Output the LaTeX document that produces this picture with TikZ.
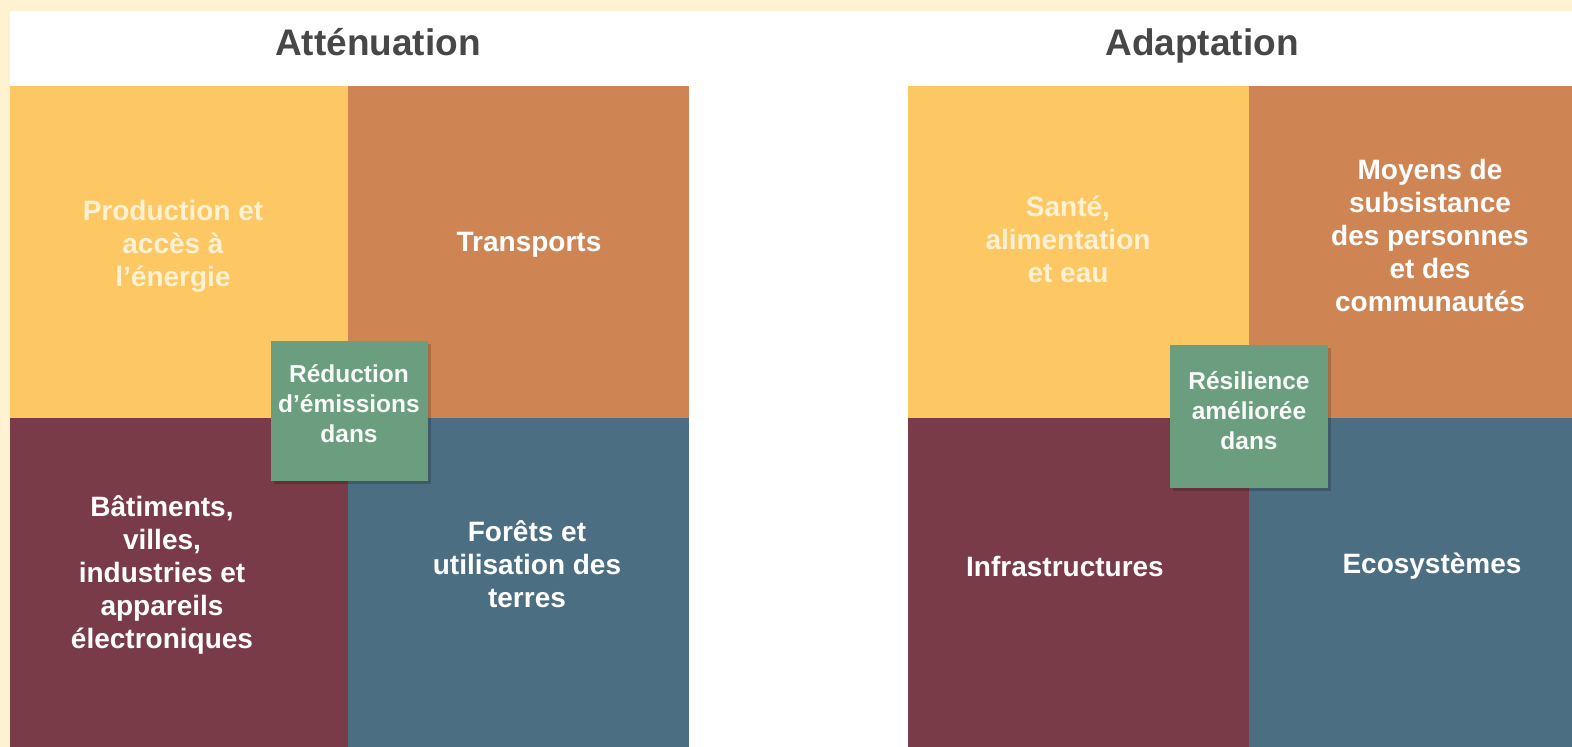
\documentclass[tikz,border=0pt]{standalone}
\usepackage{fontspec}
\setmainfont{Liberation Sans}
\definecolor{creambg}{HTML}{FFF2D0}
\definecolor{qyel}{HTML}{FDC864}
\definecolor{qora}{HTML}{CF8553}
\definecolor{qmar}{HTML}{793B47}
\definecolor{qblu}{HTML}{4C6E82}
\definecolor{qgrn}{HTML}{6B9E7E}
\definecolor{paletxt}{HTML}{FFF1D2}
\definecolor{titletxt}{HTML}{474747}
\tikzset{
  quad/.style={draw=none, inner sep=0pt, anchor=north west},
  qtext/.style={text=white, align=center, font=\fontsize{28}{33}\selectfont\bfseries, inner sep=0pt},
  ytext/.style={qtext, text=paletxt},
  gbox/.style={draw=none, fill=qgrn, inner sep=0pt, anchor=north west},
  gtext/.style={text=white!95!qgrn, align=center, font=\fontsize{24.5}{30}\selectfont\bfseries, inner sep=0pt},
  ttl/.style={text=titletxt, font=\fontsize{37}{44}\selectfont\bfseries, inner sep=0pt, anchor=base},
  shad/.style={fill=black, opacity=0.18}
}
\begin{document}
\begin{tikzpicture}[x=1pt,y=-1pt]
\useasboundingbox (0,0) rectangle (1572,747);
\fill[creambg] (0,0) rectangle (1572,747);
\fill[white] (10,11) rectangle (1572,747);
% titles
\node[ttl] (t1) at (378,55) {Atténuation};
\node[ttl] (t2) at (1202,55) {Adaptation};
% left quadrants
\node[quad, fill=qyel, minimum width=338pt, minimum height=332pt] (ltl) at (10,86) {};
\node[quad, fill=qora, minimum width=341pt, minimum height=332pt] (ltr) at (348,86) {};
\node[quad, fill=qmar, minimum width=338pt, minimum height=329pt] (lbl) at (10,418) {};
\node[quad, fill=qblu, minimum width=341pt, minimum height=329pt] (lbr) at (348,418) {};
% right quadrants
\node[quad, fill=qyel, minimum width=341pt, minimum height=332pt] (rtl) at (908,86) {};
\node[quad, fill=qora, minimum width=323pt, minimum height=332pt] (rtr) at (1249,86) {};
\node[quad, fill=qmar, minimum width=341pt, minimum height=329pt] (rbl) at (908,418) {};
\node[quad, fill=qblu, minimum width=323pt, minimum height=329pt] (rbr) at (1249,418) {};
% left texts
\node[ytext] (x1) at (173,246) {Production et\\accès à\\l’énergie};
\node[qtext, anchor=base] (x2) at (529,251) {Transports};
\node[qtext] (x3) at (162,575) {Bâtiments,\\villes,\\industries et\\appareils\\électroniques};
\node[qtext] (x4) at (527,564) {Forêts et\\utilisation des\\terres};
% right texts
\node[ytext] (y1) at (1068,239) {Santé,\\alimentation\\et eau};
\node[qtext] (y2) at (1430,235) {Moyens de\\subsistance\\des personnes\\et des\\communautés};
\node[qtext] (y3) at (1065,566) {Infrastructures};
\node[qtext] (y4) at (1432,566) {Ecosystèmes};
% green boxes
\fill[shad] (274,344) rectangle (431,484);
\node[gbox, minimum width=157pt, minimum height=140pt] (g1) at (271,341) {};
\node[gtext] (g1t) at (349,404) {Réduction\\d’émissions\\dans};
\fill[shad] (1173,348) rectangle (1331,491);
\node[gbox, minimum width=158pt, minimum height=143pt] (g2) at (1170,345) {};
\node[gtext] (g2t) at (1249,411) {Résilience\\améliorée\\dans};
\end{tikzpicture}
\end{document}
